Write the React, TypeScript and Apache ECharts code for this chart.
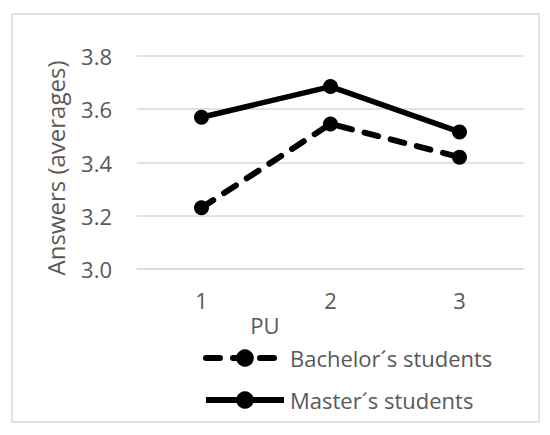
import React, { useEffect, useRef } from "react";
import * as echarts from "echarts";

const categories = ["1", "2", "3"];
const bachelorValues = [3.23, 3.545, 3.42];
const masterValues = [3.57, 3.685, 3.515];
const seriesNames = ["Bachelor´s students", "Master´s students"];
const yTitle = "Answers (averages)";
const xTitle = "PU";

const FONT = "'Open Sans', sans-serif";
const GRAY = "#595959";
const GRID = "#d9d9d9";
const DASH = [14, 13];

export default function App() {
  const ref = useRef<HTMLDivElement>(null);
  useEffect(() => {
    if (!ref.current) return;
    const chart = echarts.init(ref.current, null, { renderer: "svg" });
    chart.setOption({
      animation: false,
      backgroundColor: "#ffffff",
      grid: { left: 137, right: 26, top: 56, bottom: 166 },
      xAxis: {
        type: "category",
        data: categories,
        boundaryGap: true,
        axisLine: { show: true, lineStyle: { color: GRID, width: 1.5 } },
        axisTick: { show: false },
        axisLabel: { color: GRAY, fontSize: 22, fontFamily: FONT, margin: 20 },
      },
      yAxis: {
        type: "value",
        min: 3.0,
        max: 3.8,
        interval: 0.2,
        axisLine: { show: false },
        axisTick: { show: false },
        splitLine: { lineStyle: { color: GRID, width: 1.5 } },
        axisLabel: {
          color: GRAY,
          fontSize: 22,
          fontFamily: FONT,
          margin: 25,
          formatter: (v: number) => v.toFixed(1),
        },
      },
      legend: {
        orient: "vertical",
        left: 198,
        top: 342,
        itemWidth: 78,
        itemHeight: 22,
        itemGap: 20,
        data: [
          {
            name: seriesNames[0],
            lineStyle: { width: 6, type: DASH, cap: "round", color: "#000000" },
          },
          {
            name: seriesNames[1],
            lineStyle: { width: 6, type: "solid", color: "#000000" },
          },
        ],
        textStyle: { color: GRAY, fontSize: 22, fontFamily: FONT, padding: [0, 0, 0, 1] },
      },
      graphic: [
        {
          type: "rect",
          shape: { x: 12, y: 14, width: 527, height: 408 },
          style: { fill: "none", stroke: GRID, lineWidth: 1.5 },
          silent: true,
        },
        {
          type: "text",
          x: 55,
          y: 168,
          rotation: Math.PI / 2,
          style: {
            text: yTitle,
            fill: GRAY,
            font: `24px ${FONT}`,
            align: "center",
            verticalAlign: "middle",
          },
        },
        {
          type: "text",
          x: 265,
          y: 325,
          style: {
            text: xTitle,
            fill: GRAY,
            font: `22px ${FONT}`,
            align: "center",
            verticalAlign: "middle",
          },
        },
      ],
      series: [
        {
          name: seriesNames[0],
          type: "line",
          data: bachelorValues,
          symbol: "circle",
          symbolSize: 15,
          itemStyle: { color: "#000000" },
          lineStyle: { color: "#000000", width: 6, type: DASH, cap: "round" },
        },
        {
          name: seriesNames[1],
          type: "line",
          data: masterValues,
          symbol: "circle",
          symbolSize: 15,
          itemStyle: { color: "#000000" },
          lineStyle: { color: "#000000", width: 5.5 },
        },
      ],
    });
    return () => chart.dispose();
  }, []);
  return (
    <div
      ref={ref}
      style={{ position: "fixed", left: 0, top: 0, width: 550, height: 435 }}
    />
  );
}
